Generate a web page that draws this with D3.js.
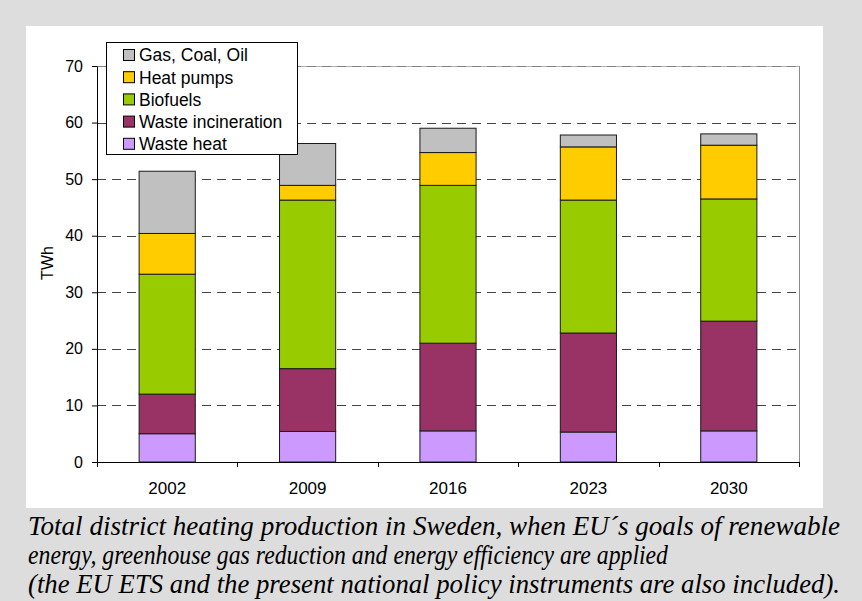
<!DOCTYPE html>
<html>
<head>
<meta charset="utf-8">
<script src="https://cdn.jsdelivr.net/npm/d3@7"></script>
<style>
  html, body { margin: 0; padding: 0; background: #dddddd; }
  svg { display: block; }
</style>
</head>
<body>
<svg id="chart" width="862" height="601"></svg>
<script>
// ---- data ----
const years = ["2002", "2009", "2016", "2023", "2030"];
const seriesNames = ["Waste heat", "Waste incineration", "Biofuels", "Heat pumps", "Gas, Coal, Oil"];
const wasteHeat = [5.0, 5.4, 5.5, 5.3, 5.5];
const wasteIncineration = [7.0, 11.1, 15.5, 17.5, 19.4];
const biofuels = [21.2, 29.8, 27.9, 23.5, 21.6];
const heatPumps = [7.2, 2.6, 5.8, 9.4, 9.5];
const gasCoalOil = [11.0, 7.4, 4.3, 2.1, 2.0];
const yTicks = [0, 10, 20, 30, 40, 50, 60, 70];
const yLabel = "TWh";
const captionLines = [
  "Total district heating production in Sweden, when EU\u00b4s goals of renewable",
  "energy, greenhouse gas reduction and energy efficiency are applied",
  "(the EU ETS and the present national policy instruments are also included)."
];
const captionWidths = [812, 640, 812];

const colors = {
  "Waste heat": "#cc99ff",
  "Waste incineration": "#993366",
  "Biofuels": "#99cc00",
  "Heat pumps": "#ffcc00",
  "Gas, Coal, Oil": "#c0c0c0"
};

const table = years.map((yr, i) => ({
  year: yr,
  "Waste heat": wasteHeat[i],
  "Waste incineration": wasteIncineration[i],
  "Biofuels": biofuels[i],
  "Heat pumps": heatPumps[i],
  "Gas, Coal, Oil": gasCoalOil[i]
}));

const svg = d3.select("#chart");
const font = "'Liberation Sans', Arial, sans-serif";

// background panel
svg.append("rect").attr("x", 0).attr("y", 0).attr("width", 862).attr("height", 601).attr("fill", "#dddddd");
svg.append("rect").attr("x", 26).attr("y", 26).attr("width", 797).attr("height", 482).attr("fill", "#ffffff");

const pLeft = 97, pRight = 799, pTop = 66, pBottom = 462;

const x = d3.scaleBand().domain(years).range([pLeft, pRight]).paddingInner(0.6).paddingOuter(0.3);
const y = d3.scaleLinear().domain([0, 70]).range([pBottom, pTop]);

// gridlines
const grid = svg.append("g");
grid.append("line")
  .attr("x1", pLeft).attr("x2", pRight).attr("y1", Math.round(y(70)) + 0.5).attr("y2", Math.round(y(70)) + 0.5)
  .attr("stroke", "#b0b0b0").attr("stroke-width", 1);
grid.selectAll("line.g").data(yTicks.filter(d => d > 0)).enter().append("line")
  .attr("class", "g")
  .attr("x1", pLeft).attr("x2", pRight)
  .attr("y1", d => Math.round(y(d)) + 0.5).attr("y2", d => Math.round(y(d)) + 0.5)
  .attr("stroke", d => d === 70 ? "#808080" : "#444")
  .attr("stroke-width", 1)
  .attr("stroke-dasharray", "9,6");
// right border
svg.append("line")
  .attr("x1", pRight + 0.5).attr("x2", pRight + 0.5).attr("y1", pTop).attr("y2", pBottom)
  .attr("stroke", "#8a8a8a").attr("stroke-width", 1);

// stacked bars
const stack = d3.stack().keys(seriesNames);
const stacked = stack(table);
svg.append("g").selectAll("g").data(stacked).enter().append("g")
  .attr("fill", d => colors[d.key])
  .selectAll("rect").data(d => d).enter().append("rect")
  .attr("x", d => x(d.data.year))
  .attr("width", x.bandwidth())
  .attr("y", d => y(d[1]))
  .attr("height", d => y(d[0]) - y(d[1]))
  .attr("stroke", "#1a1a1a")
  .attr("stroke-width", 1);

// y axis
const yAxis = svg.append("g")
  .attr("transform", `translate(${pLeft},0)`)
  .call(d3.axisLeft(y).tickValues(yTicks).tickSize(5).tickPadding(9).tickSizeOuter(0));
yAxis.select(".domain").attr("stroke", "#000");
yAxis.selectAll("text").attr("font-family", font).attr("font-size", 16).attr("fill", "#000");

// x axis
const xAxis = svg.append("g")
  .attr("transform", `translate(0,${pBottom})`)
  .call(d3.axisBottom(x).tickSize(0).tickSizeOuter(0).tickPadding(20));
xAxis.select(".domain").attr("stroke", "#000");
xAxis.selectAll("text").attr("font-family", font).attr("font-size", 17).attr("fill", "#000");
// boundary tick marks
const gap = (x.step() - x.bandwidth()) / 2;
const bounds = years.map(d => x(d) - gap).concat([pRight]);
xAxis.selectAll("line.b").data(bounds).enter().append("line")
  .attr("class", "b")
  .attr("x1", d => Math.round(d) + 0.5).attr("x2", d => Math.round(d) + 0.5)
  .attr("y1", 0).attr("y2", 5)
  .attr("stroke", "#000");

// y label
svg.append("text")
  .attr("transform", `translate(53,263) rotate(-90)`)
  .attr("text-anchor", "middle")
  .attr("font-family", font).attr("font-size", 16)
  .text(yLabel);

// legend
const legendOrder = seriesNames.slice().reverse();
const lg = svg.append("g");
lg.append("rect").attr("x", 106.5).attr("y", 42.5).attr("width", 191).attr("height", 112)
  .attr("fill", "#fff").attr("stroke", "#000").attr("stroke-width", 1);
const items = lg.selectAll("g.item").data(legendOrder).enter().append("g")
  .attr("class", "item")
  .attr("transform", (d, i) => `translate(0,${55 + i * 22.2})`);
items.append("rect")
  .attr("x", 123.5).attr("y", -5.5).attr("width", 11).attr("height", 11)
  .attr("fill", d => colors[d]).attr("stroke", "#000").attr("stroke-width", 1);
items.append("text")
  .attr("x", 139).attr("y", 0).attr("dy", "0.36em")
  .attr("font-family", font).attr("font-size", 17.5)
  .text(d => d);

// caption
svg.append("g").selectAll("text").data(captionLines).enter().append("text")
  .attr("x", 28)
  .attr("y", (d, i) => 535 + i * 29)
  .attr("font-family", "'Liberation Serif', 'Times New Roman', serif")
  .attr("font-style", "italic")
  .attr("font-size", 27)
  .attr("textLength", (d, i) => captionWidths[i])
  .attr("lengthAdjust", "spacingAndGlyphs")
  .attr("fill", "#000")
  .text(d => d);
</script>
</body>
</html>
